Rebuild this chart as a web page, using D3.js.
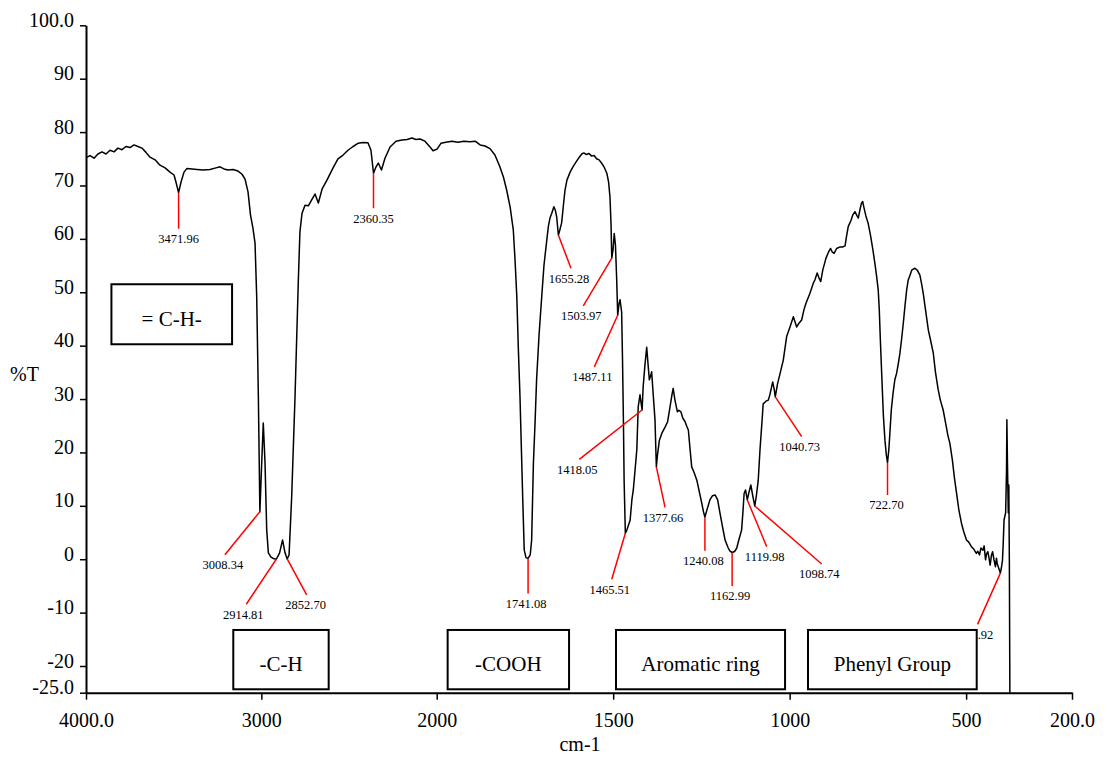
<!DOCTYPE html>
<html>
<head>
<meta charset="utf-8">
<script src="https://cdn.jsdelivr.net/npm/d3@7"></script>
<style>
  body { margin: 0; background: #fff; }
  svg { display: block; }
  svg text { font-family: "Liberation Serif", "Times New Roman", serif; }
</style>
</head>
<body>
<svg id="chart" width="1107" height="760"></svg>
<script>
// spectrum (cm-1, %T)
const wavenumbers = [
  4000, 3977, 3954, 3932, 3909, 3886, 3863, 3840, 3818, 3795, 3772, 3749, 3726, 3704, 3681, 3658, 3635, 3606, 3578, 3549,
  3521, 3498, 3487, 3471.96, 3458, 3441, 3424, 3395, 3367, 3333, 3293, 3259, 3236, 3213, 3190, 3162, 3133, 3110, 3093, 3076,
  3062, 3048, 3036, 3026.5, 3017, 3008.34, 2998, 2989, 2979, 2969.5, 2960, 2945, 2932, 2914.81, 2896, 2879, 2865, 2852.7, 2842, 2827,
  2808, 2789, 2780, 2768, 2751, 2732, 2713, 2694, 2675, 2654, 2626, 2591, 2563, 2534, 2506, 2477, 2449, 2420, 2392, 2375,
  2360.35, 2346, 2333, 2315, 2295, 2266, 2232, 2198, 2169, 2141, 2118, 2095, 2067, 2038, 2021,
  1999, 1988, 1974, 1957, 1940, 1923, 1906, 1891, 1877, 1863, 1849, 1835, 1821, 1811, 1802, 1792, 1783, 1778, 1773, 1769,
  1764, 1760, 1756.4, 1752, 1747, 1741.08, 1735, 1731, 1726, 1721, 1717, 1710, 1702.5, 1696, 1688, 1683.5, 1679, 1674, 1668, 1664,
  1660, 1655.28, 1651, 1646, 1641, 1636.5, 1631, 1622, 1614, 1604, 1596, 1589, 1583, 1576, 1568.5, 1561, 1554, 1547, 1540, 1532.5,
  1526, 1518, 1513, 1509, 1506, 1503.97, 1500.5, 1497, 1493.5, 1490, 1487.11, 1483.5, 1480.5, 1476, 1473.5, 1471, 1469, 1465.51, 1461, 1456.5,
  1452, 1447, 1443, 1438, 1433, 1429, 1424, 1418.05, 1415, 1410, 1405, 1401, 1397.5, 1394, 1391, 1386.5, 1381.5, 1377.66, 1374.5, 1369,
  1362, 1354, 1346, 1339, 1333.5, 1330, 1325, 1318, 1314, 1308, 1302.5, 1296.5, 1291, 1287, 1282, 1277.5, 1271, 1263, 1257, 1249,
  1244, 1240.08, 1234.5, 1226, 1218.5, 1211, 1204, 1197.5, 1190, 1183, 1174, 1169, 1162.99, 1156, 1150, 1144, 1136, 1132, 1129, 1125,
  1119.98, 1115, 1110, 1104, 1098.74, 1094, 1089, 1084, 1078, 1075, 1067, 1060.5, 1056, 1048, 1043.5, 1040.73, 1034.5, 1027, 1018, 1008.5,
  999, 989.5, 980, 973.5, 966, 959.5, 954, 942.5, 933, 928.5, 922, 917, 912, 906, 897, 890, 884, 879, 874, 867,
  857, 849, 843, 839, 834, 826, 821, 815, 809, 805.5, 801, 796.5, 793, 790, 784, 777.5, 771, 764, 758.5, 754,
  749, 746, 743, 738.5, 734.5, 730, 726, 722.7, 719, 716, 712, 707, 702, 697, 692, 687.5, 683, 678, 673, 668.5,
  664, 659, 653.5, 645, 638, 631, 626.5, 621.5, 615, 607, 601, 593, 587, 579, 573, 565, 557, 552, 546, 539,
  533, 527, 520.5, 513, 506.5, 499, 492.5, 485, 478.5, 471, 467, 462, 458, 452.5, 449, 445, 442, 438.5, 435, 432,
  428, 425, 421, 417, 414, 412, 408, 402.92, 400, 397, 395, 392.5, 390, 388, 385.5, 384.5, 383, 380.5, 379, 377.5,
  376
];
const percentT = [
  75.2, 75.6, 75.1, 75.9, 76.3, 75.9, 76.6, 76.3, 77.0, 76.7, 77.3, 77.1, 77.6, 77.3, 77.0, 76.2, 75.3, 74.8, 73.8, 73.3,
  72.5, 71.96, 70.65, 68.65, 70.65, 72.5, 73.2, 73.1, 73.0, 72.9, 73.0, 73.3, 73.5, 73.1, 72.9, 73.0, 72.7, 72.1, 71.2, 68.8,
  64.5, 62.0, 59.2, 49.1, 30.4, 8.9, 18.0, 25.5, 18.0, 5.5, 1.2, 0.4, 0.14, 0.0, 1.2, 3.6, 1.2, 0.05, 0.8, 11.7,
  30.4, 52.3, 61.3, 64.8, 66.3, 66.2, 67.3, 68.4, 66.7, 69.3, 71.0, 73.3, 75.0, 75.7, 76.6, 77.3, 77.9, 78.05, 78.0, 76.6,
  72.3, 73.5, 74.2, 72.9, 75.1, 77.2, 78.3, 78.5, 78.6, 78.9, 78.6, 78.7, 78.3, 77.2, 76.5,
  76.8, 77.9, 78.1, 78.3, 78.1, 78.3, 78.2, 78.3, 77.6, 77.4, 76.9, 75.7, 73.5, 71.6, 69.2, 66.0, 61.7, 56.0, 49.1, 40.1,
  30.4, 20.5, 11.7, 1.7, 0.3, 0.14, 0.8, 3.6, 18.0, 26.1, 33.6, 42.0, 49.1, 55.1, 59.8, 62.4, 63.9, 64.8, 66.0, 65.4,
  64.1, 60.73, 61.7, 63.0, 66.3, 69.1, 71.0, 72.5, 73.5, 74.5, 75.3, 75.9, 76.1, 75.8, 76.0, 75.5, 75.6, 75.0, 74.8, 74.16,
  73.5, 72.3, 70.65, 67.8, 62.6, 56.4, 57.9, 61.0, 58.8, 52.3, 45.7, 47.8, 48.6, 46.3, 37.3, 26.1, 14.8, 4.86, 5.5, 6.4,
  7.3, 11.1, 12.97, 16.7, 20.5, 28.6, 30.8, 27.95, 32.3, 36.4, 39.7, 36.4, 33.6, 34.3, 35.1, 30.8, 26.1, 17.3, 19.5, 22.3,
  23.6, 24.6, 25.7, 28.5, 30.8, 32.0, 29.8, 27.6, 27.9, 27.6, 26.4, 25.8, 24.8, 24.2, 20.5, 17.3, 16.3, 14.8, 12.97, 10.5,
  8.85, 7.9, 9.2, 11.1, 11.9, 12.03, 11.1, 8.7, 6.0, 3.6, 2.1, 1.5, 1.26, 1.45, 2.05, 3.6, 5.5, 9.2, 12.3, 12.97,
  11.1, 12.6, 13.9, 11.7, 9.97, 12.03, 14.8, 20.5, 26.1, 29.1, 29.6, 29.8, 30.8, 33.2, 31.7, 30.4, 32.8, 34.8, 37.3, 41.7,
  43.5, 45.4, 43.5, 44.2, 44.8, 46.7, 47.9, 49.8, 51.7, 52.3, 53.6, 52.7, 52.0, 54.2, 56.4, 57.5, 58.2, 57.5, 57.3, 58.2,
  58.5, 58.5, 58.7, 60.4, 62.3, 63.5, 64.5, 65.1, 64.3, 63.9, 65.4, 66.7, 67.0, 66.0, 64.3, 62.9, 60.7, 57.9, 55.4, 53.2,
  50.4, 46.7, 41.1, 33.6, 27.0, 22.3, 19.5, 18.08, 20.5, 23.6, 27.95, 31.1, 33.6, 34.8, 36.7, 38.6, 41.1, 44.2, 47.6, 50.4,
  52.3, 53.2, 54.2, 54.5, 54.1, 53.2, 51.7, 49.8, 46.7, 42.9, 41.1, 38.6, 35.1, 31.7, 29.8, 27.95, 25.1, 23.3, 21.7, 18.6,
  15.2, 12.35, 9.2, 6.7, 5.1, 3.6, 3.2, 2.35, 1.9, 1.1, 1.5, 0.8, 2.1, 1.7, 2.5, -0.1, 1.0, 1.4, 0.2, -1.1,
  0.8, 1.4, -0.1, -1.4, 0.2, -0.8, -1.6, -2.6, -1.6, -0.2, 2.7, 7.4, 8.1, 8.7, 16.7, 26.1, 18.6, 8.7, 13.9, -0.2,
  -25
];

const xTicks = [4000, 3000, 2000, 1500, 1000, 500, 200];
const yTicks = [-25, -20, -10, 0, 10, 20, 30, 40, 50, 60, 70, 80, 90, 100];

// picked peaks
const peakWn = [3471.96, 2360.35, 3008.34, 2914.81, 2852.70, 1741.08, 1655.28, 1503.97, 1487.11, 1418.05,
                1377.66, 1465.51, 1240.08, 1162.99, 1119.98, 1098.74, 1040.73, 722.70, 402.92];

// group boxes: label, wavenumber span, %T span
const groupNames = ["= C-H-", "-C-H", "-COOH", "Aromatic ring", "Phenyl Group"];
const groupWn = [[3855, 3167], [3160, 2616], [1969, 1625], [1492, 1013], [948, 470]];
const groupT  = [[51.5, 40.26], [-13.25, -24.36], [-13.25, -24.36], [-13.25, -24.36], [-13.25, -24.36]];

// leader line offsets in px from each peak [dx, dy, text dx]
const leader = [[0, 36, 0], [0, 35, 0], [-35, 43, -2], [-30, 45, -3], [19.5, 36, -1], [0, 35, -2], [12.6, 33.3, -2],
  [-28.5, 47.7, -2], [-23.4, 51.7, -2], [-62.8, 49.3, -2], [8.7, 40.6, -2], [-13.6, 46, -2], [0, 33.7, -1.5],
  [0, 33.5, -2], [19.4, 46.7, -2], [66.9, 58, -2.5], [26.4, 39.7, -2], [0, 32.3, -1], [-22.8, 51.3, -1.5]];

const FONT = "Liberation Serif, Times New Roman, serif";

const svg = d3.select("#chart");
svg.append("rect").attr("width", 1107).attr("height", 760).attr("fill", "#fff");

const x = d3.scaleLinear().domain([4000, 2000, 200]).range([86, 436.7, 1072]);
const y = d3.scaleLinear().domain([-25, 100]).range([692.7, 25.3]);

const fmtX = d => (d === 4000 || d === 200) ? d.toFixed(1) : String(d);
const fmtY = d => (d === 100 || d === -25) ? d.toFixed(1) : String(d);

const gx = svg.append("g")
  .attr("transform", `translate(0,${y(-25)})`)
  .call(d3.axisBottom(x).tickValues(xTicks).tickFormat(fmtX).tickSizeInner(7).tickSizeOuter(0).tickPadding(13));

const gy = svg.append("g")
  .attr("transform", `translate(${x(4000)},0)`)
  .call(d3.axisLeft(y).tickValues(yTicks).tickFormat(fmtY).tickSizeInner(6).tickSizeOuter(0).tickPadding(6));

gy.selectAll("text").attr("dy", "0.05em");

[gx, gy].forEach(g => {
  g.attr("font-size", 20).attr("font-family", FONT);
  g.select(".domain").attr("stroke", "#000").attr("stroke-width", 2);
  g.selectAll(".tick line").attr("stroke", "#000").attr("stroke-width", 1.5);
  g.selectAll(".tick text").attr("fill", "#000").attr("font-family", FONT);
});

svg.append("text").attr("x", 10).attr("y", 381).attr("font-size", 20)
  .attr("font-family", FONT).text("%T");
svg.append("text").attr("x", 580).attr("y", 751).attr("font-size", 20)
  .attr("font-family", FONT).attr("text-anchor", "middle").text("cm-1");

const spectrum = wavenumbers.map((w, i) => [w, percentT[i]]);

svg.append("path")
  .datum(spectrum)
  .attr("fill", "none")
  .attr("stroke", "#000")
  .attr("stroke-width", 1.5)
  .attr("stroke-linejoin", "round")
  .attr("d", d3.line().x(d => x(d[0])).y(d => y(d[1])));

function tAt(w) {
  for (let i = 0; i < spectrum.length - 1; i++) {
    const a = spectrum[i], b = spectrum[i + 1];
    if (w <= a[0] && w >= b[0]) {
      const t = a[0] === b[0] ? 0 : (a[0] - w) / (a[0] - b[0]);
      return a[1] + t * (b[1] - a[1]);
    }
  }
  return 0;
}

const peaks = peakWn.map((w, i) => ({ w, t: tAt(w), off: leader[i] }));

const pg = svg.append("g");
peaks.forEach(p => {
  const px = x(p.w), py = y(p.t);
  const ex = px + p.off[0], ey = py + p.off[1];
  pg.append("line")
    .attr("x1", px).attr("y1", py).attr("x2", ex).attr("y2", ey)
    .attr("stroke", "#f00").attr("stroke-width", 1.5);
  pg.append("text")
    .attr("x", ex + p.off[2]).attr("y", ey + 14.5)
    .attr("text-anchor", "middle")
    .attr("font-size", 12.5)
    .attr("font-family", FONT)
    .attr("fill", "#000")
    .text(p.w.toFixed(2));
});

const bg = svg.append("g");
groupNames.forEach((name, i) => {
  const x0 = x(groupWn[i][0]), x1 = x(groupWn[i][1]);
  const y0 = y(groupT[i][0]), y1 = y(groupT[i][1]);
  bg.append("rect")
    .attr("x", x0).attr("y", y0)
    .attr("width", x1 - x0).attr("height", y1 - y0)
    .attr("fill", "#fff").attr("stroke", "#000").attr("stroke-width", 2);
  bg.append("text")
    .attr("x", (x0 + x1) / 2).attr("y", (y0 + y1) / 2 + 11.5)
    .attr("text-anchor", "middle")
    .attr("font-size", 21)
    .attr("font-family", FONT)
    .text(name);
});
</script>
</body>
</html>
